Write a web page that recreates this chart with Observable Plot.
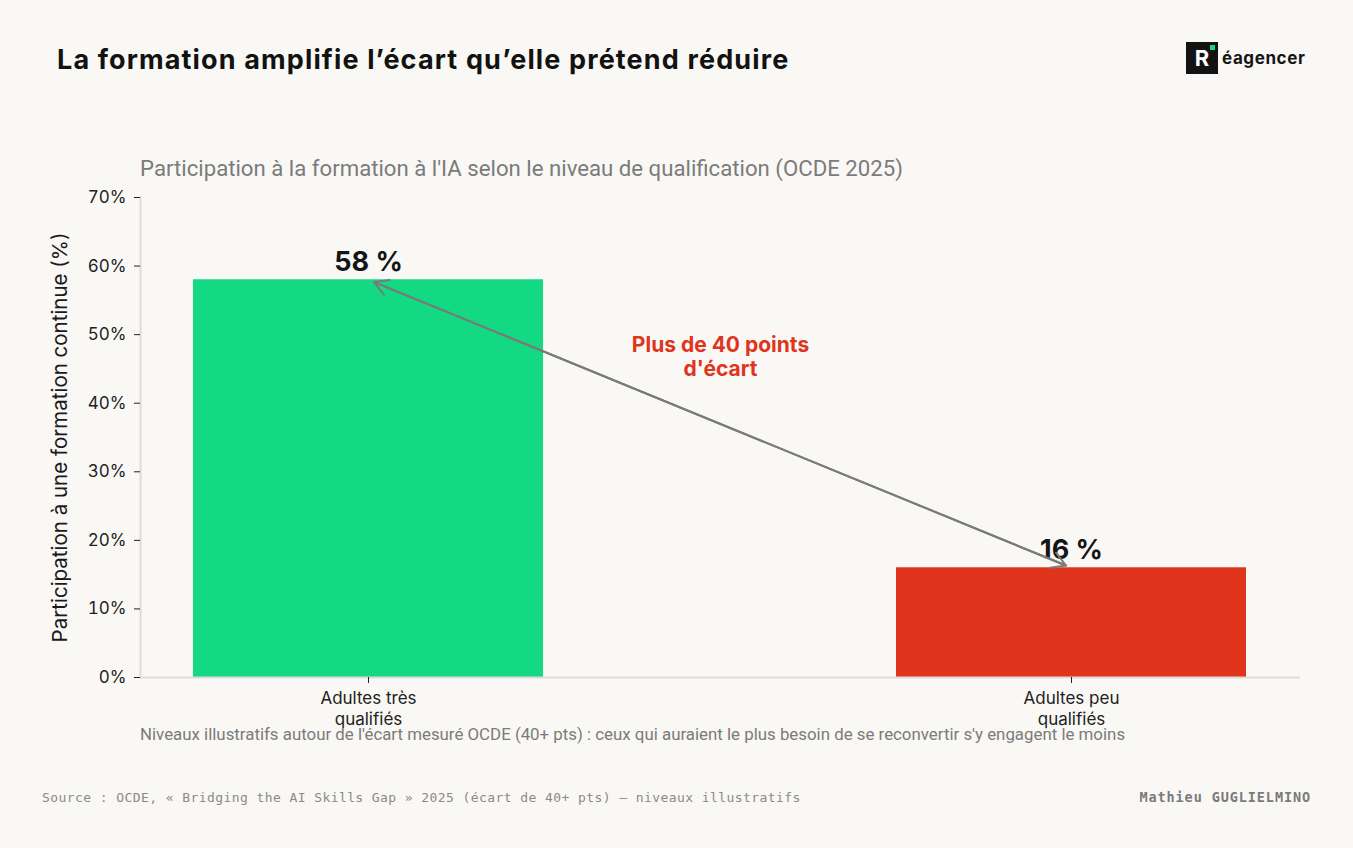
<!DOCTYPE html>
<html lang="fr">
<head>
<meta charset="utf-8">
<script src="https://cdn.jsdelivr.net/npm/d3@7"></script>
<script src="https://cdn.jsdelivr.net/npm/@observablehq/plot@0.6"></script>
<style>
  html, body { margin: 0; padding: 0; background: #f9f8f5; }
  #page { position: relative; width: 1353px; height: 848px; background: #f9f8f5; overflow: hidden; font-family: Inter, "Noto Sans", sans-serif; }
  #title { position: absolute; left: 57px; top: 43px; font: 700 27px Inter, sans-serif; color: #121212; letter-spacing: 1.13px; }
  #logo { position: absolute; left: 1186px; top: 42px; display: flex; align-items: center; }
  #logo .mark { position: relative; width: 32px; height: 32px; background: #131313; color: #fff; font: 700 22px Inter, sans-serif; display: flex; align-items: center; justify-content: center; }
  #logo .mark::after { content: ""; position: absolute; right: 3px; top: 3px; width: 5px; height: 5px; background: #12d982; }
  #logo .word { margin-left: 4px; font: 700 17px Inter, sans-serif; color: #151515; letter-spacing: 0.6px; }
  #subtitle { position: absolute; left: 140px; top: 155px; font: 400 22.2px Roboto, sans-serif; color: #7b7b7b; }
  #chart { position: absolute; left: 0; top: 150px; }
  #caption { position: absolute; left: 140px; top: 724px; font: 400 16.85px Roboto, sans-serif; color: #7b7b7b; }
  #source { position: absolute; left: 42px; top: 790px; font: 400 13px "DejaVu Sans Mono", monospace; color: #8a8a8a; letter-spacing: 0.42px; }
  #author { position: absolute; right: 42px; top: 789px; font: 700 13.5px "DejaVu Sans Mono", monospace; color: #7a7a7a; letter-spacing: 0.9px; }
</style>
</head>
<body>
<div id="page">
  <div id="title">La formation amplifie l’écart qu’elle prétend réduire</div>
  <div id="logo"><div class="mark">R</div><div class="word">éagencer</div></div>
  <div id="subtitle">Participation à la formation à l'IA selon le niveau de qualification (OCDE 2025)</div>
  <div id="chart"></div>
  <div id="caption">Niveaux illustratifs autour de l'écart mesuré OCDE (40+ pts) : ceux qui auraient le plus besoin de se reconvertir s'y engagent le moins</div>
  <div id="source">Source : OCDE, « Bridging the AI Skills Gap » 2025 (écart de 40+ pts) — niveaux illustratifs</div>
  <div id="author">Mathieu GUGLIELMINO</div>
</div>
<script>
// Taux de participation à une formation continue, par niveau de qualification
const categories = ["Adultes très qualifiés", "Adultes peu qualifiés"];
const tickLabels = ["Adultes très\nqualifiés", "Adultes peu\nqualifiés"];
const values = [58, 16];
const barColors = ["#12d982", "#e0341c"];
const yTicks = [0, 10, 20, 30, 40, 50, 60, 70];
const gapNote = "Plus de 40 points\nd'écart";

const rows = categories.map((c, i) => ({category: c, value: values[i]}));
const gap = [{from: categories[0], to: categories[1], v1: values[0], v2: values[1]}];

const chart = Plot.plot({
  width: 1353,
  height: 600,
  marginTop: 47,
  marginBottom: 73,
  marginLeft: 140,
  marginRight: 53,
  style: {background: "transparent", fontFamily: "Inter, sans-serif", fontSize: "16px", color: "#222"},
  x: {domain: categories, paddingInner: 0.502, paddingOuter: 0.076},
  y: {domain: [0, 70]},
  color: {domain: categories, range: barColors},
  marks: [
    Plot.barY(rows, {x: "category", y: "value", fill: "category"}),
    Plot.frame({anchor: "left", stroke: "#dddcd8", strokeWidth: 2}),
    Plot.ruleY([0], {stroke: "#dddcd8", strokeWidth: 2}),
    // ticks and tick labels
    Plot.axisY({
      ticks: yTicks, tickFormat: d => `${d}%`, tickSize: 6, tickPadding: 8,
      fontSize: 17, stroke: "#222", label: null
    }),
    // axis title, drawn larger than the tick labels
    Plot.axisY({
      ticks: [], tickSize: 0,
      fontSize: 20.5, fill: "#1a1a1a",
      label: "Participation à une formation continue (%)", labelAnchor: "center", labelArrow: "none", labelOffset: 88
    }),
    Plot.axisX({
      tickFormat: d => tickLabels[categories.indexOf(d)], tickSize: 6, tickPadding: 6,
      fontSize: 17, stroke: "#222", label: null, lineHeight: 1.22
    }),
    Plot.text(rows, {
      x: "category", y: "value", text: d => `${d.value} %`,
      lineAnchor: "bottom", dy: -9, fontSize: 27, fontWeight: 700, fill: "#151515"
    }),
    Plot.arrow(gap, {x1: "from", y1: "v1", x2: "to", y2: "v2", stroke: "#7a7a7a", strokeWidth: 2, headLength: 12, inset: 6}),
    Plot.arrow(gap, {x1: "to", y1: "v2", x2: "from", y2: "v1", stroke: "#7a7a7a", strokeWidth: 2, headLength: 12, inset: 6}),
    Plot.text([gapNote], {
      text: d => d, frameAnchor: "top", dy: 159, lineAnchor: "middle",
      fontSize: 21, fontWeight: 700, fill: "#e0341c", fontFamily: "Inter, sans-serif", lineHeight: 1.15
    })
  ]
});
document.getElementById("chart").appendChild(chart);
</script>
</body>
</html>
